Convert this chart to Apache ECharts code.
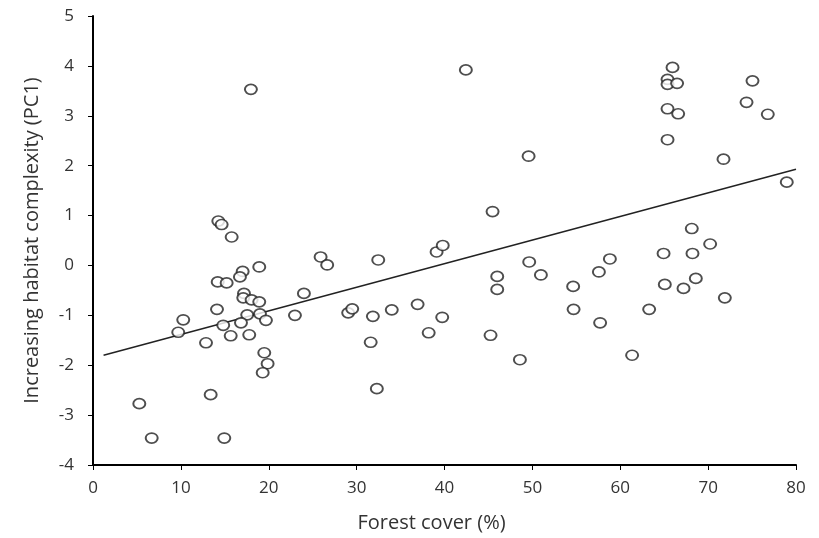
<!DOCTYPE html>
<html>
<head>
<meta charset="utf-8">
<script src="https://cdn.jsdelivr.net/npm/echarts@6/dist/echarts.min.js"></script>
<style>
  html, body { margin: 0; padding: 0; background: #fff; }
  #chart { width: 819px; height: 538px; }
</style>
</head>
<body>
<div id="chart"></div>
<script>
  // forest cover (%) and PC1 score
  var forestCover = [
    14.26, 14.64, 15.78, 18.92, 17.03, 16.72, 14.19, 15.21, 17.18, 17.10,
    18.05, 18.92, 14.11, 10.27, 17.55, 19.00, 19.68, 16.84, 14.82, 9.70,
    15.67, 17.78, 12.86, 19.49, 19.87, 19.31, 13.39, 5.27, 6.68, 14.94, 17.97,
    25.90, 26.65, 32.46, 39.10, 39.80, 24.00, 22.98, 29.04, 29.50, 31.85,
    34.00, 36.94, 39.74, 31.60, 38.20, 32.30,
    49.57, 45.47, 49.64, 46.00, 46.00, 50.97, 54.64, 54.69, 57.57, 58.82,
    64.93, 65.07, 63.29, 57.71, 45.24, 48.58, 61.35,
    65.95, 65.38, 65.38, 66.47, 65.38, 66.59, 65.38, 75.05, 74.37, 76.79,
    71.75, 78.95, 68.14, 70.23, 68.22, 67.20, 68.60, 71.90,
    42.43
  ];
  var complexity = [
    0.89, 0.82, 0.57, -0.03, -0.12, -0.23, -0.33, -0.35, -0.56, -0.65,
    -0.69, -0.73, -0.88, -1.09, -0.99, -0.97, -1.10, -1.15, -1.20, -1.34,
    -1.41, -1.39, -1.55, -1.75, -1.97, -2.15, -2.59, -2.77, -3.46, -3.46, 3.53,
    0.17, 0.01, 0.11, 0.27, 0.40, -0.56, -1.00, -0.95, -0.87, -1.02,
    -0.89, -0.78, -1.04, -1.54, -1.35, -2.47,
    2.19, 1.08, 0.07, -0.22, -0.48, -0.19, -0.42, -0.88, -0.13, 0.13,
    0.24, -0.38, -0.88, -1.15, -1.40, -1.89, -1.80,
    3.97, 3.73, 3.63, 3.65, 3.14, 3.04, 2.52, 3.70, 3.27, 3.03,
    2.13, 1.67, 0.74, 0.43, 0.24, -0.46, -0.26, -0.65,
    3.92
  ];
  // fitted line end points
  var trendX = [1.2, 80];
  var trendY = [-1.8, 1.93];

  var points = forestCover.map(function (x, i) { return [x, complexity[i]]; });
  var trend = trendX.map(function (x, i) { return [x, trendY[i]]; });

  var textColor = '#333';
  var font = 'Open Sans';

  var myChart = echarts.init(document.getElementById('chart'));
  myChart.setOption({
    animation: false,
    grid: { left: 93, right: 23, top: 16, bottom: 72 },
    xAxis: {
      type: 'value',
      min: 0,
      max: 80,
      interval: 10,
      name: 'Forest cover (%)',
      nameLocation: 'middle',
      nameGap: 48,
      nameTextStyle: { color: textColor, fontFamily: font, fontSize: 20, padding: [0, 26, 0, 0] },
      axisLine: { onZero: false, lineStyle: { color: '#000', width: 2 } },
      axisTick: { show: true, length: 5, lineStyle: { color: '#000' } },
      axisLabel: { color: textColor, fontFamily: font, fontSize: 17, margin: 15 },
      splitLine: { show: false }
    },
    yAxis: {
      type: 'value',
      min: -4,
      max: 5,
      interval: 1,
      name: 'Increasing habitat complexity (PC1)',
      nameLocation: 'middle',
      nameGap: 51,
      nameTextStyle: { color: textColor, fontFamily: font, fontSize: 20 },
      axisLine: { show: true, lineStyle: { color: '#000', width: 2 } },
      axisTick: { show: true, length: 5, lineStyle: { color: '#000' } },
      axisLabel: { color: textColor, fontFamily: font, fontSize: 17, margin: 19 },
      splitLine: { show: false }
    },
    series: [
      {
        name: 'Sites',
        type: 'scatter',
        symbol: 'circle',
        symbolSize: [12, 10],
        itemStyle: { color: '#fff', borderColor: '#222', borderWidth: 1.8 },
        data: points
      },
      {
        name: 'Fit',
        type: 'line',
        showSymbol: false,
        lineStyle: { color: '#222', width: 1.5 },
        data: trend,
        z: 1
      }
    ]
  });
</script>
</body>
</html>
